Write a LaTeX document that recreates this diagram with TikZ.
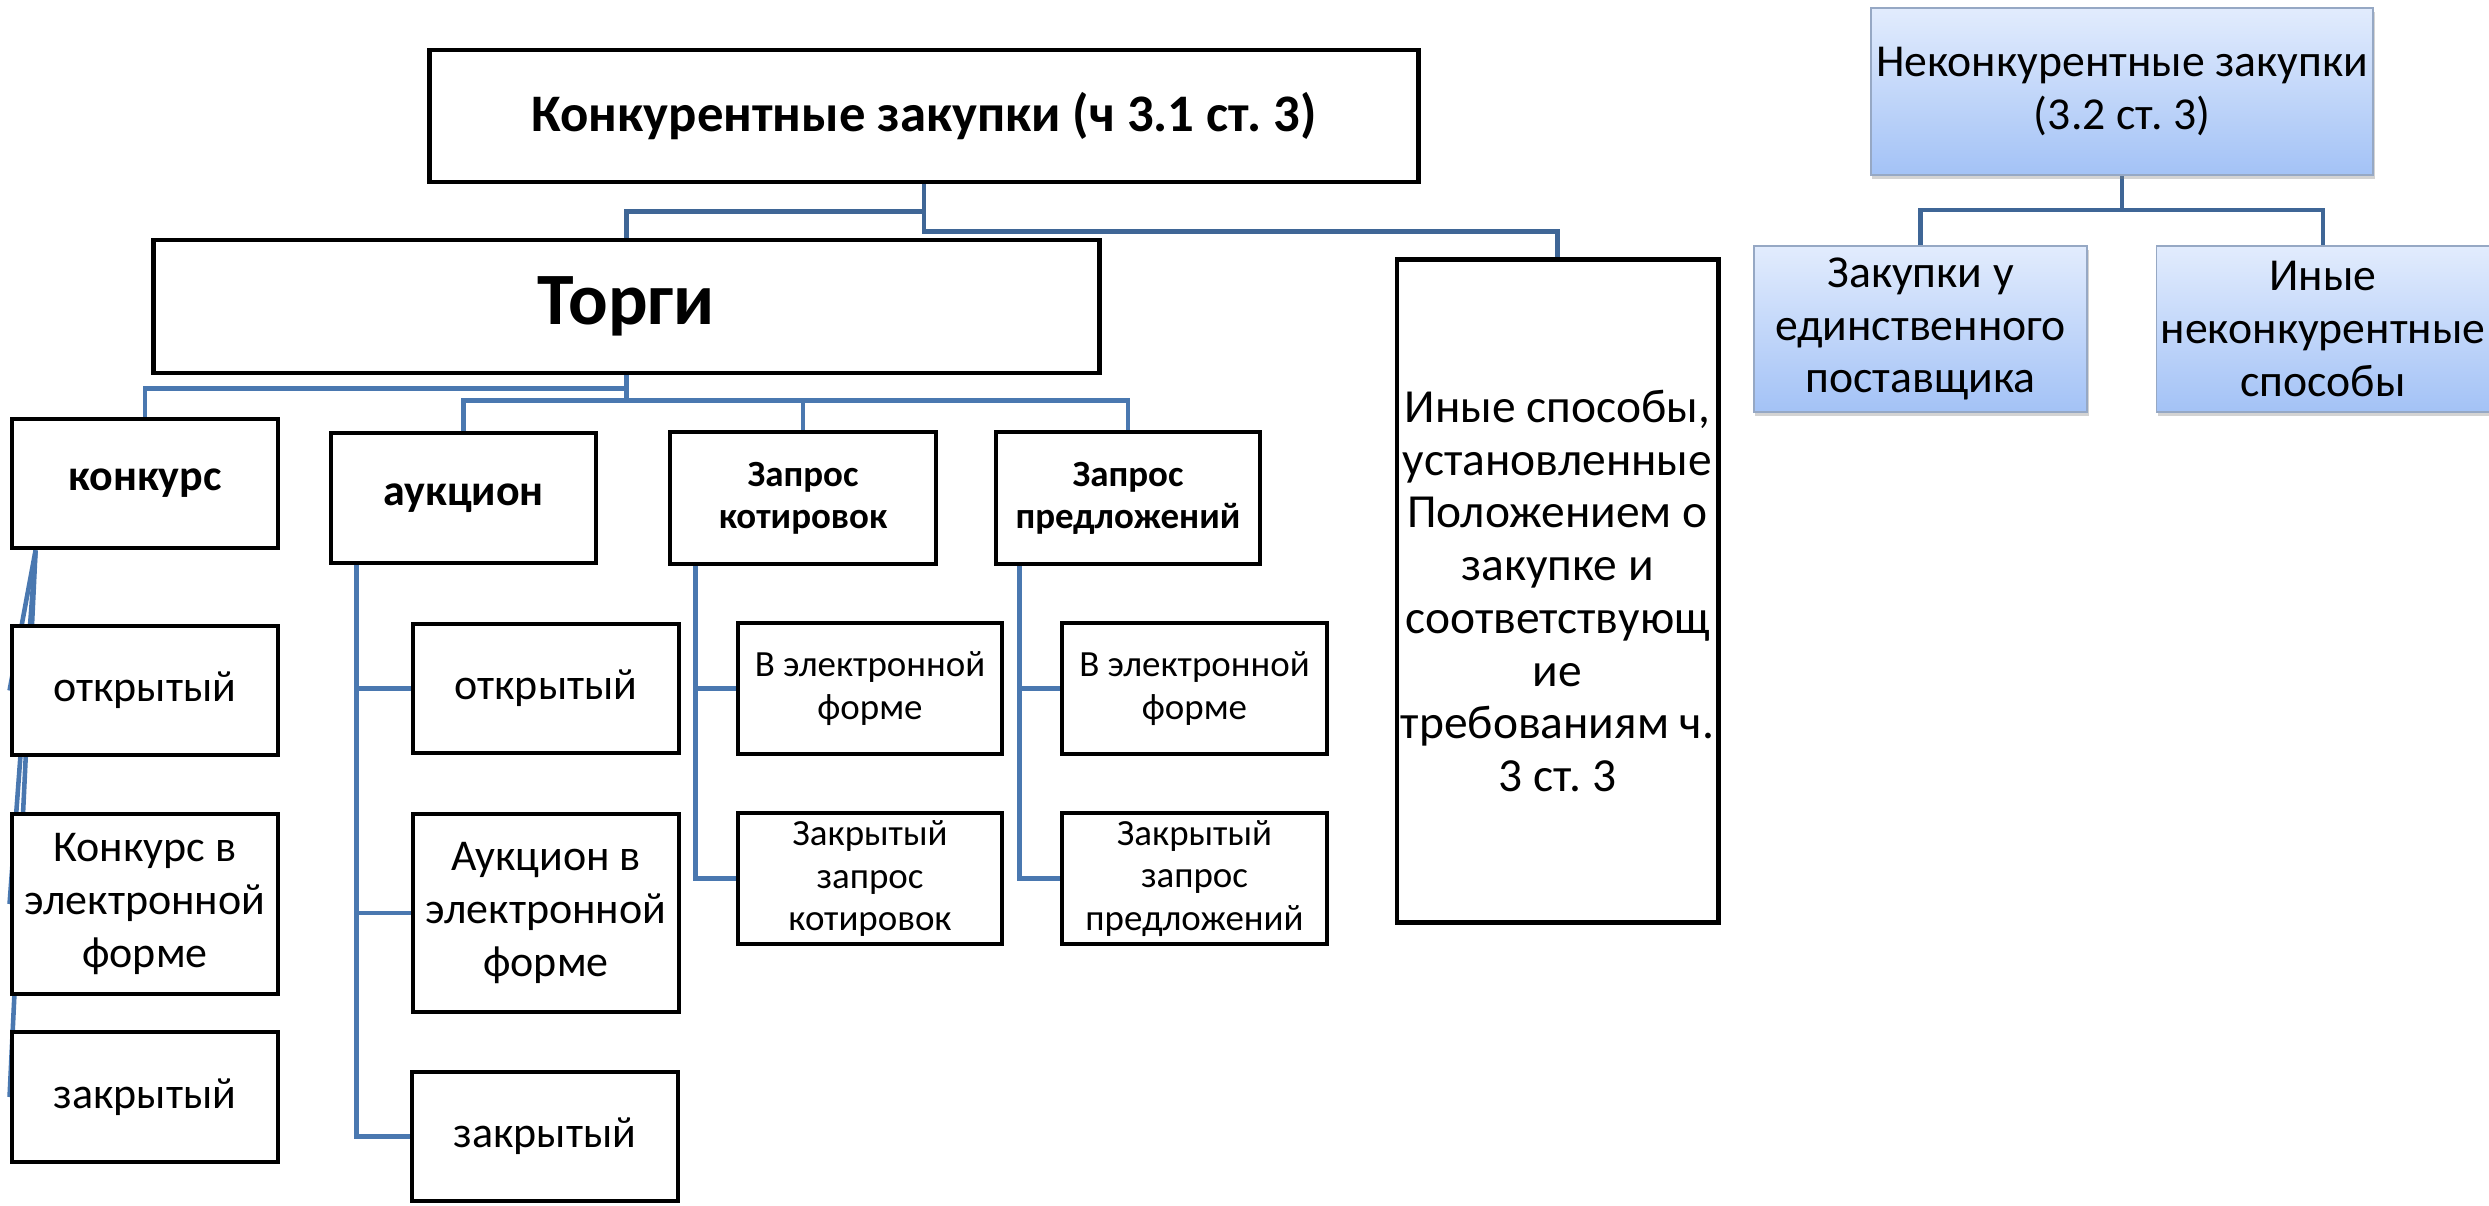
\documentclass[tikz,border=0pt]{standalone}
\usepackage{fontspec}
\setmainfont{Carlito}
\usetikzlibrary{backgrounds,shadows}
\definecolor{linkblue}{RGB}{74,120,176}
\definecolor{linkdark}{RGB}{63,102,150}
\definecolor{boxtop}{RGB}{226,236,253}
\definecolor{boxbot}{RGB}{163,194,246}
\definecolor{boxline}{RGB}{150,168,196}
\frenchspacing

\begin{document}
\begin{tikzpicture}[x=0.01cm,y=-0.01cm]
    \tikzstyle{frame}=[draw=black,line width=1.35pt,fill=white,inner sep=0pt,align=center,font=\fontsize{12.5}{15}\selectfont]
    \tikzstyle{head}=[frame,font=\fontsize{12.5}{15}\selectfont\bfseries]
    \tikzstyle{small}=[frame,font=\fontsize{10.5}{12}\selectfont]
    \tikzstyle{smallhead}=[small,font=\fontsize{10.5}{12}\selectfont\bfseries]
    \tikzstyle{bluebox}=[draw=boxline,line width=0.5pt,top color=boxtop,bottom color=boxbot,inner sep=0pt,align=center,
      font=\fontsize{13}{15}\selectfont,drop shadow={opacity=0.35,shadow xshift=0.4pt,shadow yshift=-1.2pt}]
    \tikzstyle{link}=[draw=linkblue,line width=1.3pt]
    \tikzstyle{linktop}=[draw=linkdark,line width=1.3pt]
    \useasboundingbox (0,0) rectangle (2489,1205);

    \node[frame,minimum width=9.88cm,minimum height=1.32cm,font=\fontsize{15}{18}\selectfont\bfseries] (top) at (924,116) {Конкурентные закупки (ч 3.1 ст. 3)};
    \node[frame,minimum width=9.45cm,minimum height=1.33cm,font=\fontsize{21}{24}\selectfont\bfseries] (torgi) at (626.5,306.5) {Торги};
    \node[frame,minimum width=3.21cm,minimum height=6.62cm,font=\fontsize{13.5}{15}\selectfont] (other) at (1557.5,591) {Иные способы,\\установленные\\Положением о\\закупке и\\соответствующ\\ие\\требованиям ч.\\3 ст. 3};

    \node[head,minimum width=2.66cm,minimum height=1.29cm] (konk) at (145,483.5) {конкурс};
    \node[head,minimum width=2.65cm,minimum height=1.30cm] (auk) at (463.5,498) {аукцион};
    \node[smallhead,minimum width=2.66cm,minimum height=1.32cm] (zk) at (803,498) {Запрос\\котировок};
    \node[smallhead,minimum width=2.64cm,minimum height=1.32cm] (zp) at (1128,498) {Запрос\\предложений};

    \node[frame,minimum width=2.66cm,minimum height=1.29cm] (konk1) at (145,690.5) {открытый};
    \node[frame,minimum width=2.66cm,minimum height=1.80cm] (konk2) at (145,904) {Конкурс в\\электронной\\форме};
    \node[frame,minimum width=2.66cm,minimum height=1.30cm] (konk3) at (145,1097) {закрытый};

    \node[frame,minimum width=2.66cm,minimum height=1.29cm] (auk1) at (546,688.5) {открытый};
    \node[frame,minimum width=2.66cm,minimum height=1.98cm] (auk2) at (546,913) {Аукцион в\\электронной\\форме};
    \node[frame,minimum width=2.66cm,minimum height=1.29cm] (auk3) at (545,1136.5) {закрытый};

    \node[small,minimum width=2.64cm,minimum height=1.31cm] (zk1) at (870,688.5) {В электронной\\форме};
    \node[small,minimum width=2.64cm,minimum height=1.31cm] (zk2) at (870,878.5) {Закрытый\\запрос\\котировок};
    \node[small,minimum width=2.65cm,minimum height=1.31cm] (zp1) at (1194.5,688.5) {В электронной\\форме};
    \node[small,minimum width=2.65cm,minimum height=1.31cm] (zp2) at (1194.5,878.5) {Закрытый\\запрос\\предложений};

    \node[bluebox,minimum width=5.02cm,minimum height=1.67cm] (nk) at (2122,91.5) {Неконкурентные закупки\\(3.2 ст. 3)};
    \node[bluebox,minimum width=3.33cm,minimum height=1.66cm] (nk1) at (1920.5,329) {Закупки у\\единственного\\поставщика};
    \node[bluebox,minimum width=3.33cm,minimum height=1.66cm] (nk2) at (2323,329) {Иные\\неконкурентные\\способы};

    \begin{pgfonlayer}{background}
    \draw[linktop] (top.south) -- ++(0,27) -| (torgi.north);
    \draw[linktop] (top.south) -- ++(0,47) -| (other.north);
    \draw[link] (torgi.south) -- ++(0,13) -| (konk.north);
    \foreach \n in {auk,zk,zp}
      \draw[link] (torgi.south) -- ++(0,25) -| (\n.north);
    \foreach \n in {konk1,konk2,konk3}
      \draw[link] ([xshift=0.26cm]konk.south west) -- (\n.west);
    \foreach \n in {auk1,auk2,auk3}
      \draw[link] ([xshift=0.28cm]auk.south west) |- (\n.west);
    \foreach \n in {zk1,zk2}
      \draw[link] ([xshift=0.28cm]zk.south west) |- (\n.west);
    \foreach \n in {zp1,zp2}
      \draw[link] ([xshift=0.26cm]zp.south west) |- (\n.west);
    \draw[linktop] (nk.south) -- ++(0,34) -| (nk1.north);
    \draw[linktop] (nk.south) -- ++(0,34) -| (nk2.north);
    \end{pgfonlayer}
\end{tikzpicture}
\end{document}
